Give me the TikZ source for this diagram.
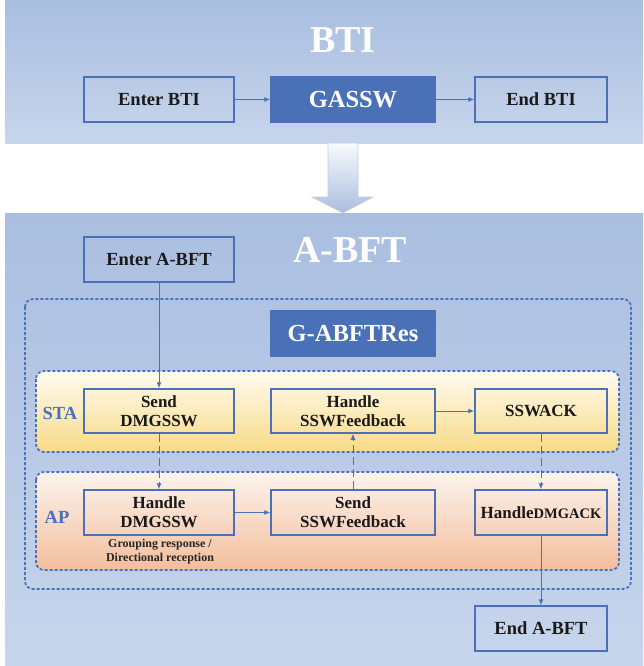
\documentclass[tikz,border=0pt]{standalone}
\usepackage{fontspec}
\setmainfont{Liberation Serif}
\usetikzlibrary{arrows.meta}

\definecolor{panelTop}{HTML}{AABEE0}
\definecolor{panelBot}{HTML}{C7D5EC}
\definecolor{boxBlue}{HTML}{4A70B8}
\definecolor{lineBlue}{HTML}{4A72BC}
\definecolor{roleBlue}{HTML}{4670C4}
\definecolor{staTop}{HTML}{FFFBF0}
\definecolor{staBot}{HTML}{F8DA86}
\definecolor{apTop}{HTML}{FDF4EE}
\definecolor{apBot}{HTML}{F3BE9C}
\definecolor{arrowGrey}{HTML}{C3CBDA}

\begin{document}
\begin{tikzpicture}[
  x=1pt,y=-1pt,
  >={Latex[length=6pt,width=5pt]},
  font=\bfseries,
  stepbox/.style={draw=boxBlue,line width=1.5pt,align=center,minimum height=45pt,
    inner sep=2pt,font=\fontsize{17}{19}\selectfont\bfseries,text=black!90},
  endbox/.style={stepbox,font=\fontsize{18.5}{20}\selectfont\bfseries},
  solidbox/.style={stepbox,fill=boxBlue,text=white,font=\fontsize{24.5}{26}\selectfont\bfseries},
  paneltitle/.style={text=white,font=\fontsize{38}{40}\selectfont\bfseries},
  rolelabel/.style={text=roleBlue,font=\fontsize{18.5}{20}\selectfont\bfseries},
  grouped/.style={draw=lineBlue,line width=1.8pt,dash pattern=on 3pt off 2pt,rounded corners=8pt},
  connection/.style={->,draw=lineBlue,line width=1pt},
  dashconn/.style={connection,dash pattern=on 8pt off 4pt}
]
  \useasboundingbox (0,0) rectangle (643,666);

  \fill[top color=panelTop,bottom color=panelBot] (5,0) rectangle (643,143);
  \fill[top color=panelTop,bottom color=panelBot] (5,213) rectangle (643,666);
  \shade[top color=white!92!panelTop,bottom color=panelTop,draw=arrowGrey,line width=0.6pt]
    (328,143) -- (358,143) -- (358,197) -- (373,197) -- (343,213) -- (312,197) -- (328,197) -- cycle;

  \node[paneltitle] (btititle) at (343,40) {BTI};
  \node[endbox,minimum width=150pt] (enterbti) at (159,99.5) {Enter BTI};
  \node[solidbox,minimum width=164pt] (gassw) at (353,99.5) {GASSW};
  \node[endbox,minimum width=132pt] (endbti) at (541,99.5) {End BTI};
  \draw[connection] (enterbti) -- (gassw);
  \draw[connection] (gassw) -- (endbti);

  \node[paneltitle] (abfttitle) at (350,250) {A-BFT};
  \node[endbox,minimum width=150pt] (enterabft) at (159,259.5) {Enter A-BFT};

  \draw[grouped] (25,299) rectangle (631,589);
  \shade[grouped,top color=staTop,bottom color=staBot] (36,371) rectangle (619,452);
  \shade[grouped,top color=apTop,bottom color=apBot] (36,472) rectangle (619,570);

  \node[solidbox,minimum width=164pt] (gabftres) at (353,333.5) {G-ABFTRes};

  \node[rolelabel] (sta) at (60,413) {STA};
  \node[stepbox,minimum width=150pt,minimum height=44pt] (senddmg) at (159,411) {Send\\DMGSSW};
  \node[stepbox,minimum width=164pt,minimum height=44pt] (handlefb) at (353,411) {Handle\\SSWFeedback};
  \node[stepbox,minimum width=132pt,minimum height=44pt] (sswack) at (541,411) {SSWACK};

  \node[rolelabel] (ap) at (57,517) {AP};
  \node[stepbox,minimum width=150pt] (handledmg) at (159,512.5) {Handle\\DMGSSW};
  \node[stepbox,minimum width=164pt] (sendfb) at (353,512.5) {Send\\SSWFeedback};
  \node[stepbox,minimum width=132pt] (handleack) at (541,512.5)
    {Handle{\fontsize{14.5}{16}\selectfont DMGACK}};
  \node[align=center,font=\fontsize{12}{14}\selectfont\bfseries,text=black!85] (grpnote) at (160,552)
    {Grouping response /\\Directional reception};

  \node[endbox,minimum width=132pt] (endabft) at (541,628.5) {End A-BFT};

  \draw[connection] (enterabft) -- (senddmg);
  \draw[dashconn] (senddmg) -- (handledmg);
  \draw[connection] (handledmg) -- (sendfb);
  \draw[dashconn] (sendfb) -- (handlefb);
  \draw[connection] (handlefb) -- (sswack);
  \draw[dashconn] (sswack) -- (handleack);
  \draw[connection] (handleack) -- (endabft);
\end{tikzpicture}
\end{document}
